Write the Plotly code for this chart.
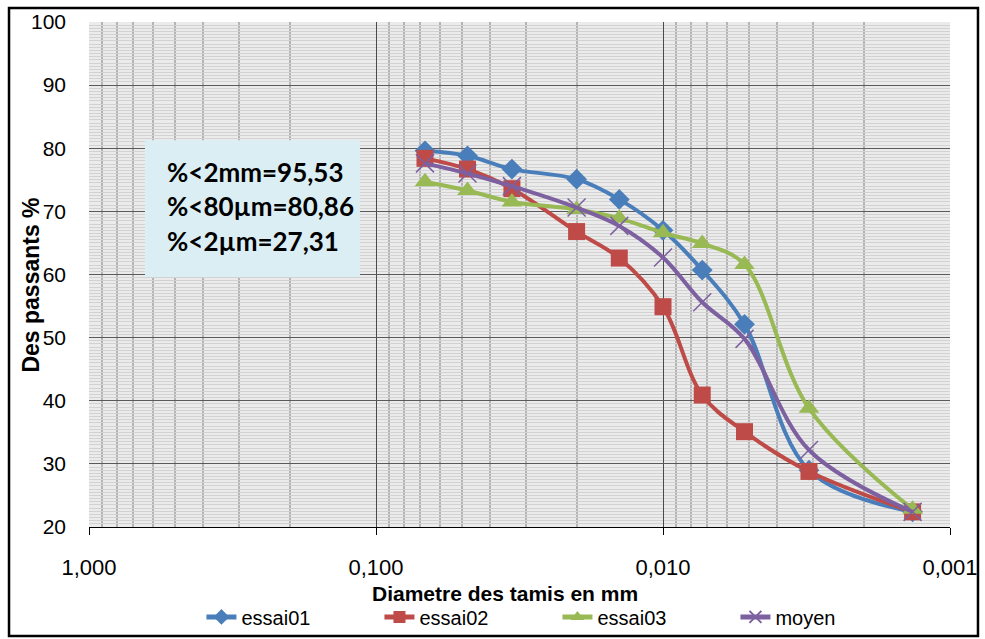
import plotly.graph_objects as go

# Sieve / sedimentometry diameters (mm)
diametres = [0.0675, 0.048, 0.0336, 0.020, 0.0142, 0.0100, 0.0073, 0.0052, 0.0031, 0.00135]

# Percent passing for each test and the mean curve
essai01 = [79.6, 78.8, 76.7, 75.1, 71.9, 67.0, 60.7, 52.1, 29.0, 22.4]
essai02 = [78.4, 76.7, 73.6, 66.8, 62.6, 54.9, 40.9, 35.1, 28.8, 22.4]
essai03 = [74.7, 73.3, 71.5, 70.3, 68.9, 66.6, 64.9, 61.6, 38.8, 22.8]
moyen = [77.6, 76.0, 74.0, 70.6, 67.7, 62.7, 55.6, 49.8, 32.2, 22.4]

x_tickvals = [1, 0.1, 0.01, 0.001]
x_ticktext = ["1,000", "0,100", "0,010", "0,001"]

resume = ["%<2mm=95,53", "%<80\u00b5m=80,86", "%<2\u00b5m=27,31"]

series = [
    ("essai01", essai01, "#4A7EBB", "diamond", 16),
    ("essai02", essai02, "#BE4B48", "square", 17),
    ("essai03", essai03, "#98B954", "triangle-up", 18),
    ("moyen", moyen, "#7D60A0", "x-thin", 18),
]

fig = go.Figure()
for name, vals, color, symbol, size in series:
    marker = dict(symbol=symbol, size=size, color=color,
                  line=dict(color=color, width=1.5 if symbol == "x-thin" else 0))
    fig.add_trace(go.Scatter(
        x=diametres, y=vals, name=name, mode="lines+markers",
        line=dict(color=color, width=4, shape="spline", smoothing=1.0),
        marker=marker,
    ))

# Minor log gridlines at 2..9 of each decade
minor_vals = [k * 10.0 ** e for e in range(-3, 0) for k in range(2, 10)]

font_main = "Liberation Sans, Arial, sans-serif"

fig.update_xaxes(
    type="log", range=[0, -3],
    tickvals=x_tickvals, ticktext=x_ticktext,
    tickfont=dict(family=font_main, size=22, color="black"),
    ticks="outside", ticklen=7, tickcolor="black", tickwidth=1,
    ticklabelstandoff=14,
    showline=True, linecolor="black", linewidth=1,
    showgrid=True, gridcolor="#4a4a4a", gridwidth=1,
    minor=dict(tickvals=minor_vals, showgrid=True, gridcolor="#b4b4b4", gridwidth=2, ticks=""),
    zeroline=False,
)
fig.update_yaxes(
    range=[20, 100], dtick=10,
    tickfont=dict(family=font_main, size=21, color="black"),
    ticks="", ticklabelstandoff=22,
    showline=False,
    showgrid=True, gridcolor="#5a5a5a", gridwidth=1,
    minor=dict(dtick=0.5, showgrid=True, gridcolor="#d2d2d2", gridwidth=1),
    zeroline=False,
)

shapes = [
    # chart frame
    dict(type="rect", xref="paper", yref="paper",
         x0=-0.0929, x1=1.0325, y0=-0.2158, y1=1.0277,
         line=dict(color="black", width=2.5), fillcolor="rgba(0,0,0,0)", layer="above"),
    # summary box
    dict(type="rect", xref="paper", yref="paper",
         x0=0.065, x1=0.3148, y0=0.495, y1=0.766,
         line=dict(width=0), fillcolor="#DBEEF4", layer="above"),
]

annotations = [
    dict(text="Diametre des tamis en mm", xref="paper", yref="paper",
         x=0.483, y=-0.1307, xanchor="center", yanchor="middle", showarrow=False,
         font=dict(family=font_main, size=21, color="black", weight="bold")),
    dict(text="Des passants %", xref="paper", yref="paper",
         x=-0.0674, y=0.48, xanchor="center", yanchor="middle", showarrow=False,
         textangle=-90,
         font=dict(family=font_main, size=23, color="black", weight="bold")),
]
line_y = [172, 206, 241]
for txt, py in zip(resume, line_y):
    annotations.append(dict(
        text=txt, xref="paper", yref="paper",
        x=(165 - 89) / 861, y=(527 - py) / 505,
        xanchor="left", yanchor="middle", showarrow=False,
        font=dict(family="Lato, sans-serif", size=26, color="black", weight="bold"),
    ))

fig.update_layout(
    width=985, height=639,
    margin=dict(l=89, r=35, t=22, b=112, autoexpand=False),
    paper_bgcolor="white", plot_bgcolor="#EBEBEB",
    shapes=shapes, annotations=annotations,
    showlegend=True,
    legend=dict(
        orientation="h", x=0.1306, y=-0.178, xanchor="left", yanchor="middle",
        font=dict(family=font_main, size=20, color="black"),
        entrywidth=133, entrywidthmode="pixels",
        itemsizing="constant",
        bgcolor="rgba(0,0,0,0)",
    ),
)

fig.write_html("out.html")
